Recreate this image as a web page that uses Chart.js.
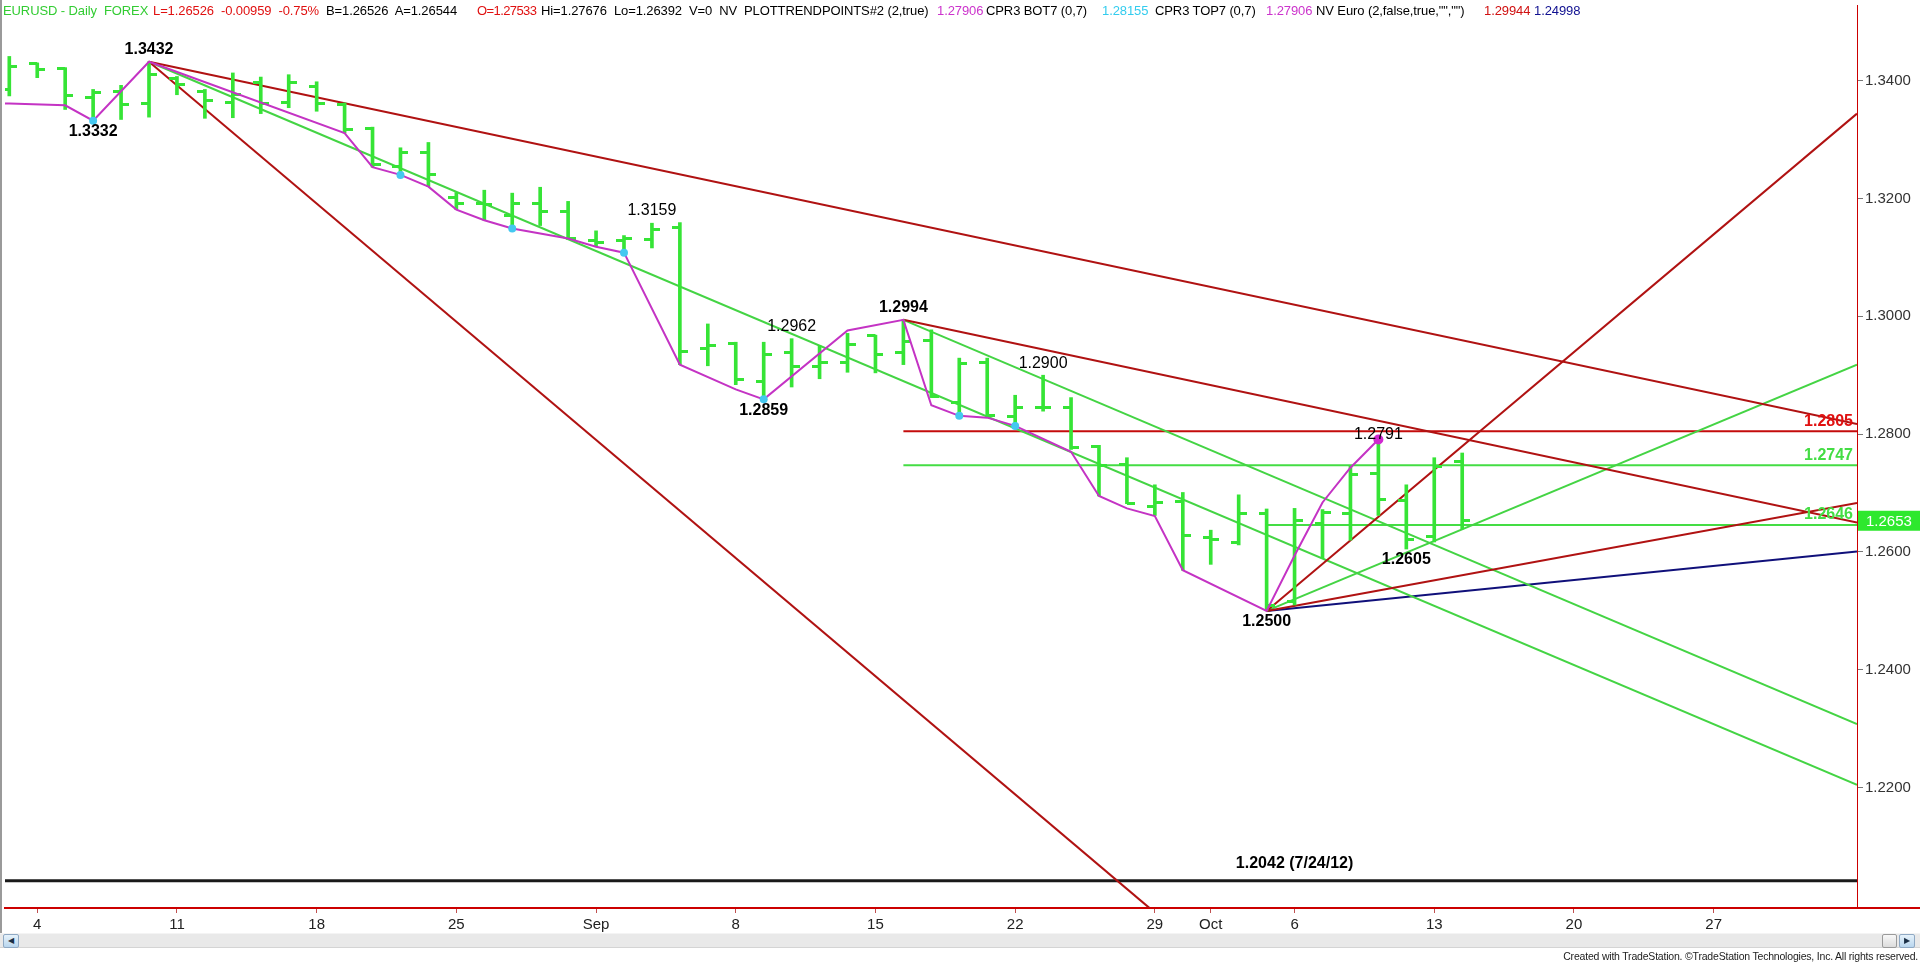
<!DOCTYPE html>
<html lang="en">
<head>
<meta charset="UTF-8">
<title>EURUSD - Daily FOREX</title>
<script src="https://cdn.jsdelivr.net/npm/chart.js"></script>
<style>
  body { margin: 0; background: #fff; font-family: "Liberation Sans", Arial, sans-serif; }
  .wrap { position: relative; width: 1920px; height: 964px; overflow: hidden; background: #fff; }
  #chart { position: absolute; left: 0; top: 0; }
  .hdr { position: absolute; top: 3px; font-size: 13px; white-space: pre; line-height: 15px; letter-spacing: -0.1px; }
  .leftEdge { position: absolute; left: 0; top: 0; width: 2px; height: 948px; background: #9a9a9a; }
  .scroll { position: absolute; left: 0; top: 933px; width: 1920px; height: 15px; background: #e9e9e9; border-top: 1px solid #f4f4f4; border-bottom: 1px solid #d4d4d4; box-sizing: border-box; }
  .btn { position: absolute; top: 0; width: 16px; height: 14px; box-sizing: border-box; border: 1px solid #8fa9c4; border-radius: 2px; background: linear-gradient(#e6f2fb, #b9d6ee); font-size: 8px; line-height: 12px; text-align: center; color: #1b2f45; }
  .thumb { position: absolute; top: 0; width: 15px; height: 14px; box-sizing: border-box; border: 1px solid #9a9a9a; border-radius: 2px; background: linear-gradient(#f8f8f8, #dcdcdc); }
  .foot { position: absolute; right: 2px; top: 950px; font-size: 10.5px; color: #222; white-space: pre; letter-spacing: -0.2px; }
</style>
</head>
<body>
<div class="wrap">
  <canvas id="chart" width="1920" height="964"></canvas>
  <div class="leftEdge"></div>

  <!-- header line of the chart window -->
  <span class="hdr" style="left:3px;color:#33cc33">EURUSD - Daily  FOREX</span>
  <span class="hdr" style="left:153px;color:#e01010">L=1.26526  -0.00959  -0.75%</span>
  <span class="hdr" style="left:326px;color:#000">B=1.26526  A=1.26544</span>
  <span class="hdr" style="left:477px;color:#e01010;letter-spacing:-0.6px">O=1.27533</span>
  <span class="hdr" style="left:541px;color:#000">Hi=1.27676  Lo=1.26392  V=0  NV  PLOTTRENDPOINTS#2 (2,true)</span>
  <span class="hdr" style="left:937px;color:#cc33cc">1.27906</span>
  <span class="hdr" style="left:986px;color:#000">CPR3 BOT7 (0,7)</span>
  <span class="hdr" style="left:1102px;color:#33ccee">1.28155</span>
  <span class="hdr" style="left:1155px;color:#000">CPR3 TOP7 (0,7)</span>
  <span class="hdr" style="left:1266px;color:#cc33cc">1.27906</span>
  <span class="hdr" style="left:1316px;color:#000">NV Euro (2,false,true,"","")</span>
  <span class="hdr" style="left:1484px;color:#d01010">1.29944</span>
  <span class="hdr" style="left:1534px;color:#101090">1.24998</span>

  <div class="scroll">
    <div class="btn" style="left:3px">&#9664;</div>
    <div class="thumb" style="left:1882px"></div>
    <div class="btn" style="left:1899px">&#9654;</div>
  </div>
  <div class="foot">Created with TradeStation. ©TradeStation Technologies, Inc. All rights reserved.</div>
</div>

<script>
// trading days: 0 = Fri Aug 1 2014 ... 52 = Tue Oct 14 2014
var opens  = [1.3385, 1.3429, 1.3420, 1.3372, 1.3382, 1.3361, 1.3403, 1.3382, 1.3362, 1.3396,
              1.3362, 1.3390, 1.3359, 1.3319, 1.3255, 1.3278, 1.3201, 1.3191, 1.3171, 1.3191,
              1.3178, 1.3128, 1.3129, 1.3130, 1.3150, 1.2946, 1.2954, 1.2890, 1.2938, 1.2914,
              1.2921, 1.2967, 1.2938, 1.2959, 1.2853, 1.2922, 1.2830, 1.2845, 1.2845, 1.2779,
              1.2749, 1.2678, 1.2686, 1.2625, 1.2616, 1.2665, 1.2516, 1.2649, 1.2666, 1.2734,
              1.2687, 1.2627, 1.2753];
var highs  = [1.3441, 1.3430, 1.3422, 1.3385, 1.3392, 1.3432, 1.3407, 1.3385, 1.3413, 1.3406,
              1.3410, 1.3398, 1.3362, 1.3321, 1.3286, 1.3295, 1.3210, 1.3214, 1.3209, 1.3219,
              1.3195, 1.3145, 1.3137, 1.3158, 1.3159, 1.2987, 1.2956, 1.2956, 1.2962, 1.2950,
              1.2971, 1.2968, 1.2994, 1.2977, 1.2929, 1.2929, 1.2866, 1.2900, 1.2862, 1.2781,
              1.2760, 1.2714, 1.2701, 1.2637, 1.2697, 1.2673, 1.2674, 1.2672, 1.2746, 1.2791,
              1.2714, 1.2760, 1.2768];
var lows   = [1.3374, 1.3405, 1.3351, 1.3332, 1.3334, 1.3338, 1.3376, 1.3336, 1.3337, 1.3344,
              1.3354, 1.3348, 1.3311, 1.3253, 1.3240, 1.3220, 1.3181, 1.3163, 1.3149, 1.3154,
              1.3130, 1.3118, 1.3108, 1.3116, 1.2918, 1.2916, 1.2884, 1.2859, 1.2880, 1.2894,
              1.2905, 1.2904, 1.2918, 1.2862, 1.2831, 1.2828, 1.2814, 1.2839, 1.2774, 1.2695,
              1.2682, 1.2662, 1.2569, 1.2579, 1.2612, 1.2500, 1.2510, 1.2589, 1.2620, 1.2662,
              1.2605, 1.2617, 1.2639];
var closes = [1.3424, 1.3419, 1.3374, 1.3379, 1.3359, 1.3410, 1.3393, 1.3366, 1.3376, 1.3361,
              1.3396, 1.3361, 1.3317, 1.3257, 1.3278, 1.3240, 1.3191, 1.3189, 1.3192, 1.3178,
              1.3132, 1.3126, 1.3132, 1.3147, 1.2940, 1.2950, 1.2892, 1.2936, 1.2914, 1.2921,
              1.2952, 1.2936, 1.2957, 1.2864, 1.2920, 1.2831, 1.2846, 1.2846, 1.2777, 1.2747,
              1.2683, 1.2684, 1.2628, 1.2622, 1.2665, 1.2510, 1.2654, 1.2667, 1.2732, 1.2689,
              1.2621, 1.2745, 1.2653];

// PLOTTRENDPOINTS swing line [day, price]
var swingPts = [[-1, 1.3361], [0, 1.3361], [2, 1.3358], [3, 1.3332], [5, 1.3432], [12, 1.3311],
                [13, 1.3253], [14, 1.3240], [15, 1.3220], [16, 1.3181], [17, 1.3163], [18, 1.3149],
                [20, 1.3132], [21, 1.3118], [22, 1.3108], [24, 1.2918], [26, 1.2876], [27, 1.2859],
                [30, 1.2976], [32, 1.2994], [33, 1.2849], [34, 1.2831], [35, 1.2828], [36, 1.2814],
                [38, 1.2770], [39, 1.2695], [40, 1.2674], [41, 1.2661], [42, 1.2569], [45, 1.2500],
                [46, 1.2594], [47, 1.2684], [48, 1.2743], [49, 1.2791]];
var botPts = [[3, 1.3332], [14, 1.3240], [18, 1.3149], [22, 1.3108], [27, 1.2859], [34, 1.2831], [36, 1.2814]];
var topPts = [[49, 1.2791]];

// axis range and ticks
var X_MIN = -0.154, X_MAX = 66.13;
var Y_MIN = 1.19958, Y_MAX = 1.35283;
var yTicks = [1.22, 1.24, 1.26, 1.28, 1.30, 1.32, 1.34];
var xTickIdx  = [1, 6, 11, 16, 21, 26, 31, 36, 41, 43, 46, 51, 56, 61];
var xTickText = ['4', '11', '18', '25', 'Sep', '8', '15', '22', '29', 'Oct', '6', '13', '20', '27'];

// trendlines [[day, price], [day, price]]
var redLines   = [[[5, 1.3432], [40.8, 1.1996]], [[5, 1.3432], [X_MAX, 1.2817]], [[32, 1.2994], [X_MAX, 1.2650]],
                  [[45, 1.2500], [X_MAX, 1.3344]], [[45, 1.2500], [X_MAX, 1.2683]]];
var greenLines = [[[5, 1.3432], [X_MAX, 1.2205]], [[32, 1.2994], [X_MAX, 1.2308]], [[45, 1.2500], [X_MAX, 1.2918]]];
var blueLines  = [[[45, 1.2500], [X_MAX, 1.2601]]];

// horizontal levels [start day, price]
var redLevels   = [[32, 1.2805]];
var greenLevels = [[32, 1.2747], [45, 1.2646]];
var oldLow = 1.2042, oldLowText = '1.2042 (7/24/12)', oldLowDay = 46;

// swing labels [day, price, 'high'|'low'|'dot', major]
var swingLabels = [[5, 1.3432, 'high', true], [3, 1.3332, 'low', true], [23, 1.3159, 'high', false],
                   [28, 1.2962, 'high', false], [27, 1.2859, 'low', true], [32, 1.2994, 'high', true],
                   [37, 1.2900, 'high', false], [49, 1.2791, 'dot', false], [50, 1.2605, 'low', true],
                   [45, 1.2500, 'low', true]];

var FONT = '"Liberation Sans", Arial, sans-serif';
var BAR_GREEN = '#36e436';

function tickImage(side) {
    var c = document.createElement('canvas');
    c.width = 16; c.height = 3;
    var g = c.getContext('2d');
    g.fillStyle = BAR_GREEN;
    g.fillRect(side === 'left' ? 0 : 8, 0, 8, 3);
    return c;
}

function pts(list) {
    return list.map(function (p) { return { x: p[0], y: p[1] }; });
}

var datasets = [];

redLines.forEach(function (l) {
    datasets.push({ type: 'line', data: pts(l), borderColor: '#b01212', borderWidth: 2, pointRadius: 0, clip: 0, order: 5 });
});
greenLines.forEach(function (l) {
    datasets.push({ type: 'line', data: pts(l), borderColor: '#44d444', borderWidth: 2, pointRadius: 0, clip: 0, order: 5 });
});
blueLines.forEach(function (l) {
    datasets.push({ type: 'line', data: pts(l), borderColor: '#10107a', borderWidth: 2, pointRadius: 0, clip: 0, order: 5 });
});
redLevels.forEach(function (l) {
    datasets.push({ type: 'line', data: [{ x: l[0], y: l[1] }, { x: X_MAX, y: l[1] }], borderColor: '#c40c0c', borderWidth: 2, pointRadius: 0, clip: 0, order: 5 });
});
greenLevels.forEach(function (l) {
    datasets.push({ type: 'line', data: [{ x: l[0], y: l[1] }, { x: X_MAX, y: l[1] }], borderColor: '#44dd44', borderWidth: 2, pointRadius: 0, clip: 0, order: 5 });
});
datasets.push({ type: 'line', data: [{ x: -1, y: oldLow }, { x: X_MAX, y: oldLow }], borderColor: '#1a1a1a', borderWidth: 3, pointRadius: 0, clip: 0, order: 5 });

// OHLC bars: high-low as floating bars, open/close as ticks
datasets.push({
    type: 'bar',
    data: highs.map(function (h, i) { return { x: i, y: [lows[i], h] }; }),
    backgroundColor: BAR_GREEN, borderWidth: 0, barThickness: 3, order: 3
});
var leftTick = tickImage('left'), rightTick = tickImage('right');
datasets.push({
    type: 'line', showLine: false,
    data: opens.map(function (o, i) { return { x: i, y: o }; }),
    pointStyle: leftTick, pointRadius: 3, order: 3
});
datasets.push({
    type: 'line', showLine: false,
    data: closes.map(function (c, i) { return { x: i, y: c }; }),
    pointStyle: rightTick, pointRadius: 3, order: 3
});

datasets.push({ type: 'line', data: pts(swingPts), borderColor: '#c433c4', borderWidth: 2, pointRadius: 0, clip: 0, order: 2 });
datasets.push({ type: 'line', showLine: false, data: pts(botPts), pointRadius: 4, pointBackgroundColor: '#44c8f0', pointBorderWidth: 0, order: 1 });
datasets.push({ type: 'line', showLine: false, data: pts(topPts), pointRadius: 5, pointBackgroundColor: '#d028d0', pointBorderWidth: 0, order: 1 });

// text on the plot: swing labels, level labels, last price marker
var labelsPlugin = {
    id: 'chartText',
    afterDatasetsDraw: function (chart) {
        var ctx = chart.ctx, xs = chart.scales.x, ys = chart.scales.y, area = chart.chartArea;
        var shift = { high: -12, low: 11, dot: -5 };
        ctx.save();
        ctx.textAlign = 'center';
        ctx.textBaseline = 'middle';
        ctx.fillStyle = '#000';
        swingLabels.forEach(function (s) {
            ctx.font = (s[3] ? 'bold ' : '') + '16px ' + FONT;
            var px = xs.getPixelForValue(s[0]);
            var py = ys.getPixelForValue(s[1]);
            ctx.fillText(s[1].toFixed(4), px, py + shift[s[2]]);
        });
        ctx.font = 'bold 16px ' + FONT;
        ctx.fillText(oldLowText, xs.getPixelForValue(oldLowDay), ys.getPixelForValue(oldLow) - 17);

        // level values at right edge
        ctx.textAlign = 'right';
        ctx.font = 'bold 16px ' + FONT;
        redLevels.forEach(function (l) {
            ctx.fillStyle = '#e01010';
            ctx.fillText(l[1].toFixed(4), area.right - 4, ys.getPixelForValue(l[1]) - 10);
        });
        greenLevels.forEach(function (l) {
            ctx.fillStyle = '#44dd44';
            ctx.fillText(l[1].toFixed(4), area.right - 4, ys.getPixelForValue(l[1]) - 10);
        });

        // red axis line continues under the price scale
        ctx.strokeStyle = '#cc0000';
        ctx.lineWidth = 2;
        ctx.beginPath();
        ctx.moveTo(area.right, area.bottom);
        ctx.lineTo(chart.width, area.bottom);
        ctx.stroke();

        // last close marker on the price scale
        var last = closes[closes.length - 1];
        var ly = ys.getPixelForValue(last);
        ctx.fillStyle = '#2ee82e';
        ctx.fillRect(area.right + 1, ly - 10, chart.width - area.right - 1, 20);
        ctx.fillStyle = '#fff';
        ctx.textAlign = 'left';
        ctx.font = '15px ' + FONT;
        ctx.fillText(last.toFixed(4), area.right + 9, ly + 1);
        ctx.restore();
    }
};

var chart = new Chart(document.getElementById('chart'), {
    type: 'bar',
    data: { datasets: datasets },
    plugins: [labelsPlugin],
    options: {
        responsive: false,
        animation: false,
        events: [],
        layout: { padding: { left: 1, top: 0, right: 0, bottom: 0 } },
        plugins: { legend: { display: false }, tooltip: { enabled: false } },
        scales: {
            x: {
                type: 'linear', min: X_MIN, max: X_MAX, offset: false,
                grid: { drawOnChartArea: false, offset: false, tickLength: 5, color: '#c05050' },
                border: { color: '#cc0000', width: 2 },
                ticks: {
                    autoSkip: false, maxRotation: 0, padding: 3, color: '#222',
                    font: { size: 15, family: FONT },
                    callback: function (v) { var k = xTickIdx.indexOf(v); return k < 0 ? '' : xTickText[k]; }
                },
                afterBuildTicks: function (s) { s.ticks = xTickIdx.map(function (v) { return { value: v }; }); },
                afterFit: function (s) { s.height = 56; s.paddingLeft = 0; s.paddingRight = 0; }
            },
            y: {
                type: 'linear', position: 'right', min: Y_MIN, max: Y_MAX,
                grid: { drawOnChartArea: false, tickLength: 6, color: '#777' },
                border: { color: '#cc0000', width: 1 },
                ticks: {
                    padding: 2, color: '#333', font: { size: 15, family: FONT },
                    callback: function (v) { return v.toFixed(4); }
                },
                afterBuildTicks: function (s) { s.ticks = yTicks.map(function (v) { return { value: v }; }); },
                afterFit: function (s) { s.width = 63; s.paddingTop = 0; s.paddingBottom = 0; }
            }
        }
    }
});
</script>
</body>
</html>
